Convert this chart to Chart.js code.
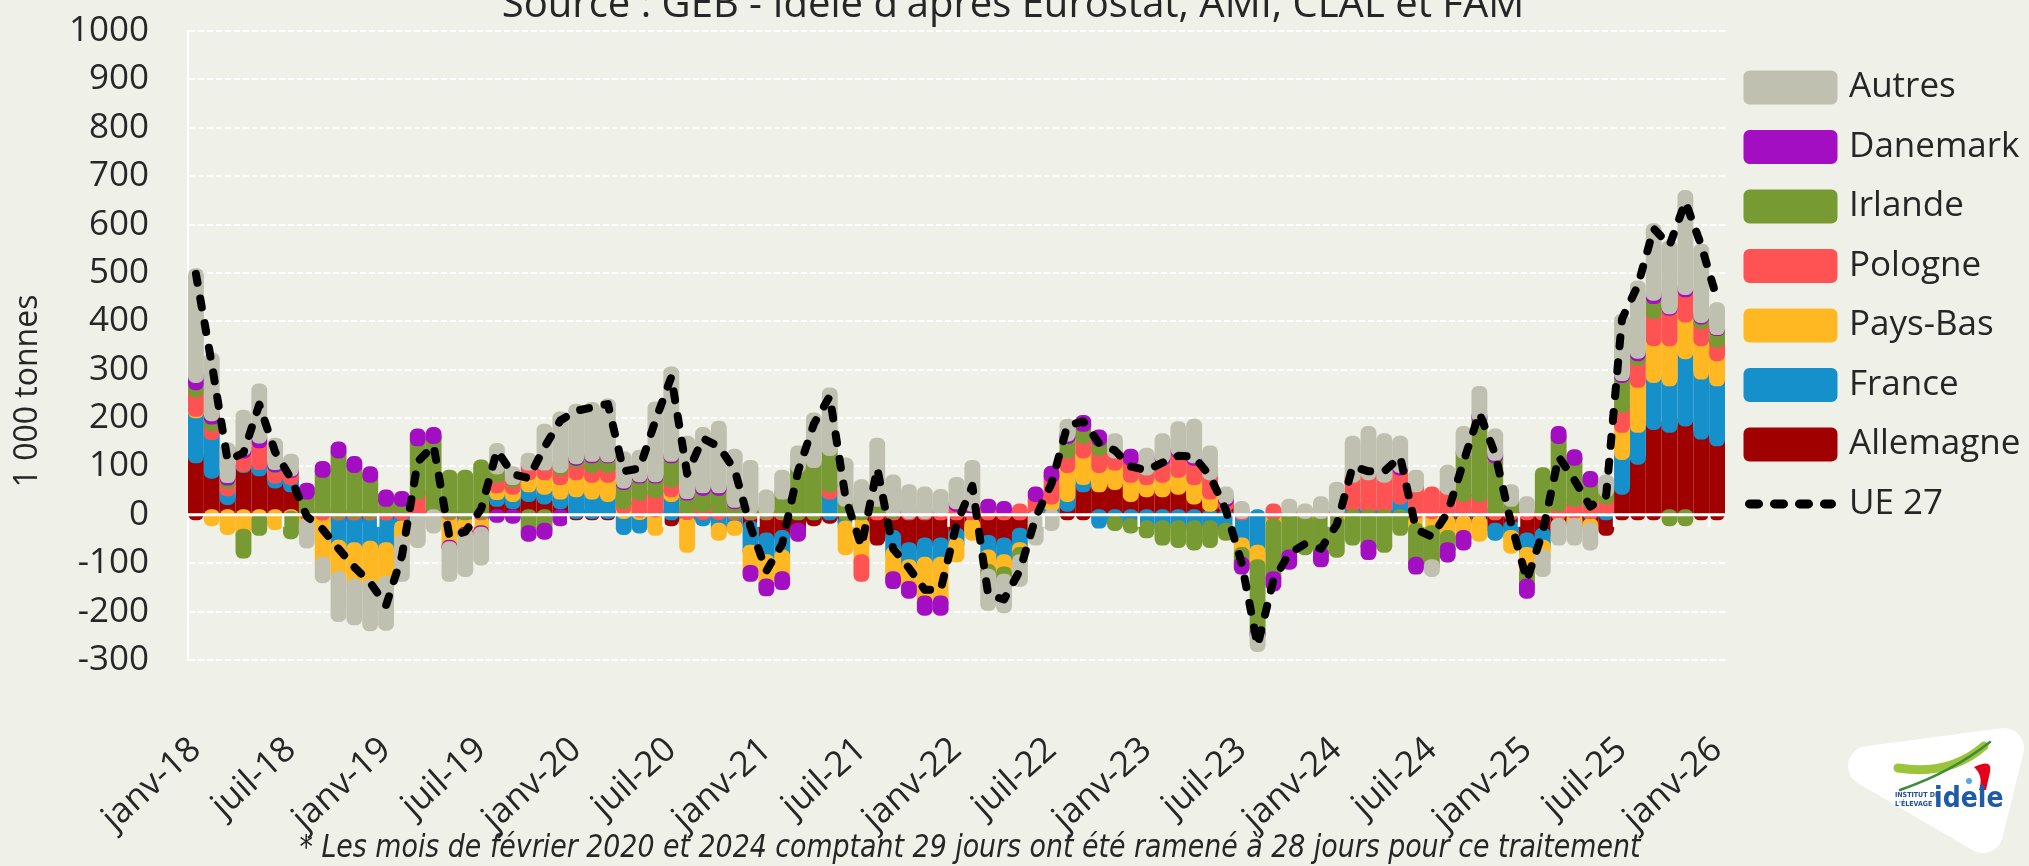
<!DOCTYPE html>
<html lang="fr">
<head>
<meta charset="utf-8">
<title>Variation mensuelle UE 27</title>
<script src="https://cdn.jsdelivr.net/npm/chart.js@4.4.1/dist/chart.umd.min.js"></script>
<style>
  html, body { margin: 0; padding: 0; background: #eff0e8; }
  #wrap { width: 2029px; height: 866px; }
  canvas { display: block; }
</style>
</head>
<body>
<div id="wrap"><canvas id="chart" width="2029" height="866"></canvas></div>
<script>
const moisNoms = ["janv", "févr", "mars", "avr", "mai", "juin", "juil", "août", "sept", "oct", "nov", "déc"];
const annees = [18, 19, 20, 21, 22, 23, 24, 25, 26];

// janv-18 ... janv-26
const mois = [];
annees.forEach(a => moisNoms.forEach(m => { if (mois.length < 97) mois.push(m + "-" + a); }));

// 1 000 tonnes
const allemagne = [
  120, 88, 34, 100, 93, 68, 60, -5, 2, -10, -10, -12,
  -10, -5, 5, 5, -5, -3, -3, 30, 25, 40, 35, 25,
  5, 5, 5, 5, 3, 3, -10, 3, 3, 3, 0, -25,
  -50, -45, -30, -10, -5, -15, -20, -50, -45, -70, -60, -60,
  -40, -20, -55, -60, -40, -5, 5, 20, 60, 60, 65, 40,
  50, 50, 55, 35, 20, 20, 0, 0, 0, 0, 0, 0,
  0, 5, 5, 5, 5, -10, -10, -15, -15, -15, -30, -25,
  -50, -40, -20, -10, -20, -30, 55, 117, 189, 183, 196, 169,
  155
];
const france = [
  93, 80, 18, 2, 13, 10, 15, 0, -5, -55, -60, -55,
  -60, -20, 0, 0, -5, -15, -12, 14, 15, 20, 20, 20,
  45, 40, 35, -28, -25, 5, 40, -15, -10, -30, -25, -50,
  -45, -40, 0, 0, 45, -10, 0, 0, -35, -35, -40, -40,
  -20, 0, -30, -35, -30, 10, 15, 20, 15, -15, -15, -20,
  -25, -25, -25, -25, -25, -30, -60, -75, -10, 0, 0, 0,
  0, 15, 10, 10, 30, 5, 5, 10, 10, 10, -10, -20,
  -30, -25, 0, 5, 5, 10, 72, 66, 97, 96, 139, 124,
  124
];
const paysBas = [
  3, -10, -28, -42, -10, -18, -5, -15, -95, -65, -75, -80,
  -70, -30, -10, 0, -55, -20, -20, 14, 15, 25, 30, 30,
  35, 35, 40, 10, 5, -30, 10, -50, 0, -10, -5, -42,
  -50, -45, 0, 0, 0, -45, -75, 0, -50, -45, -80, -80,
  -25, -20, -30, -25, -10, 0, 15, 60, 55, 40, 40, 40,
  25, 30, 35, 40, 25, 0, -20, -30, -10, -5, -10, -10,
  -15, 0, 0, 0, 0, -20, -25, -30, -30, -27, 0, -22,
  -40, -20, 0, -10, -10, 0, 56, 93, 76, 83, 76, 69,
  52
];
const pologne = [
  40, 18, 15, 28, 45, 21, 15, 5, 8, 5, 5, 5,
  10, 15, 40, 10, 5, 3, 5, 22, 15, 20, 20, 20,
  25, 20, 20, 10, 35, 40, 20, 10, 15, 10, 5, 5,
  5, 5, 0, 0, 15, 0, -30, 10, 5, 5, 5, 10,
  20, 15, 15, 10, 10, 30, 45, 30, 30, 35, 25, 35,
  20, 35, 40, 40, 40, 10, 5, 0, 10, 10, 5, 5,
  10, 60, 70, 65, 60, 55, 40, 45, 30, 30, 10, 10,
  10, 10, 20, 25, 20, 25, 41, 45, 56, 63, 52, 35,
  28
];
const irlande = [
  15, 14, 7, -35, -20, 2, -32, 40, 80, 125, 95, 75,
  20, 15, 110, 145, 75, 77, 96, 17, 5, -35, -30, 5,
  5, 20, 20, 40, 35, 30, 50, 30, 35, 40, 20, 10,
  5, 40, 100, 110, 75, 30, 10, 20, 5, 0, 0, 0,
  0, 0, -10, -15, -15, 0, 0, 30, 25, 20, -5, -5,
  -10, -25, -30, -35, -30, -10, -20, -140, -110, -80, -60, -70,
  -60, -50, -65, -65, -30, -70, -70, -25, 90, 160, 110, 20,
  -25, 75, 140, 85, 45, 15, 62, 10, 31, -10, -10, 10,
  24
];
const danemark = [
  15, 7, 5, 6, 10, 5, 3, 8, 8, 8, 8, 7,
  9, 6, 10, 8, -3, -3, -3, -3, -5, -7, -8, -10,
  3, 3, 2, 3, 3, 3, 3, 3, 5, 5, 3, -8,
  -10, -12, -12, 0, 0, 0, 0, 0, -10, -10, -15, -15,
  5, 5, 5, 5, 0, 5, 8, 5, 8, 8, 0, 8,
  0, 5, 5, 5, 0, 5, -10, -5, -15, -15, 0, -15,
  0, 0, -15, 0, 5, -10, 0, -15, -15, 5, 5, 0,
  -15, 0, 10, 7, 7, 0, 4, 5, 7, 3, 5, 3,
  2
];
const autres = [
  210, 115, 57, 68, 97, 40, 20, -36, -28, -78, -70, -80,
  -86, -70, -45, -25, -57, -74, -53, 38, 12, 10, 70, 100,
  98, 97, 105, 50, 40, 140, 170, 104, 110, 123, 95, 85,
  29, 35, 30, 88, 115, 75, 50, 116, 60, 45, 40, 30,
  40, 80, -60, -55, -40, -45, -20, 20, 0, 0, 25, 0,
  30, 35, 45, 65, 45, 10, 10, -20, 0, 10, 5, 20,
  45, 70, 85, 75, 50, 20, -10, 35, 40, 48, 40, 20,
  15, -30, -30, -30, -30, 20, 112, 135, 133, 126, 190, 137,
  41
];
const ue27 = [
  498, 312, 112, 128, 228, 130, 75, -3, -30, -70, -108, -140,
  -187, -85, 110, 143, -45, -35, 12, 133, 84, 76, 140, 195,
  215, 222, 229, 90, 96, 195, 285, 85, 158, 141, 93, -25,
  -116, -60, 90, 188, 245, 35, -65, 96, -70, -110, -155, -155,
  -20, 60, -165, -175, -115, -5, 65, 185, 193, 148, 133, 100,
  92, 108, 122, 120, 80, 10, -100, -270, -135, -80, -60, -70,
  -20, 100, 90, 90, 120, -30, -45, 5, 110, 211, 125, -17,
  -135, -35, 120, 72, 17, 40, 405, 474, 592, 557, 647, 557,
  446
];

const yMin = -300, yMax = 1000, yPas = 100;

const FOND = "#eff0e8";
const TEXTE = "#262626";
const TRAIT = 13; // épaisseur du contour arrondi des barres

Chart.defaults.font.family = "'Open Sans', sans-serif";

// Contour épais arrondi, dessiné dans l'ordre des séries (la série du haut par-dessus)
const barresEpaisses = {
  id: "barresEpaisses",
  beforeDatasetDraw(chart, args) {
    if (args.meta.type !== "line") return;
    const ctx = chart.ctx;
    const xs = chart.scales.x, ys = chart.scales.y;
    ctx.save();
    ctx.lineJoin = "round";
    ctx.lineWidth = TRAIT;
    chart.data.datasets.forEach((ds, d) => {
      if (ds.type === "line") return;
      const meta = chart.getDatasetMeta(d);
      ctx.fillStyle = ds.backgroundColor;
      ctx.strokeStyle = ds.backgroundColor;
      meta.data.forEach((bar, i) => {
        if (!ds.data[i]) return;
        const p = bar.getProps(["x", "y", "base", "width"], true);
        ctx.beginPath();
        ctx.rect(p.x - p.width / 2, Math.min(p.y, p.base), p.width, Math.abs(p.base - p.y));
        ctx.fill();
        ctx.stroke();
      });
    });
    // axe du zéro + graduations tous les 6 mois
    const y0 = ys.getPixelForValue(0);
    const pas = xs.getPixelForValue(1) - xs.getPixelForValue(0);
    ctx.strokeStyle = "#ffffff";
    ctx.lineWidth = 3;
    ctx.beginPath();
    ctx.moveTo(chart.chartArea.left, y0);
    ctx.lineTo(chart.chartArea.right, y0);
    ctx.stroke();
    ctx.lineWidth = 2.5;
    for (let k = 6; k < mois.length; k += 6) {
      const x = xs.getPixelForValue(k) - pas / 2;
      ctx.beginPath();
      ctx.moveTo(x, y0);
      ctx.lineTo(x, y0 + 12);
      ctx.stroke();
    }
    ctx.restore();
  }
};

function dessinerLogo(ctx) {
  ctx.save();
  ctx.fillStyle = "#ffffff";
  ctx.strokeStyle = "#ffffff";
  ctx.lineJoin = "round";
  ctx.lineWidth = 40;
  ctx.beginPath();
  ctx.moveTo(1868, 766);
  ctx.lineTo(2004, 748);
  ctx.lineTo(1983, 833);
  ctx.closePath();
  ctx.fill();
  ctx.stroke();

  ctx.lineCap = "round";
  ctx.lineWidth = 9;
  ctx.strokeStyle = "#9cc43a";
  ctx.beginPath();
  ctx.moveTo(1898, 768);
  ctx.quadraticCurveTo(1950, 776, 1984, 746);
  ctx.stroke();
  ctx.lineWidth = 2.5;
  ctx.strokeStyle = "#3c8d3a";
  ctx.beginPath();
  ctx.moveTo(1900, 790);
  ctx.quadraticCurveTo(1952, 772, 1990, 742);
  ctx.stroke();

  ctx.fillStyle = "#e2001a";
  ctx.beginPath();
  ctx.moveTo(1974, 767);
  ctx.quadraticCurveTo(1993, 758, 1990, 772);
  ctx.lineTo(1986, 790);
  ctx.lineTo(1979, 790);
  ctx.quadraticCurveTo(1984, 776, 1974, 767);
  ctx.fill();
  ctx.fillStyle = "#5aa9dc";
  ctx.beginPath();
  ctx.arc(1969, 781, 3, 0, Math.PI * 2);
  ctx.fill();

  ctx.textAlign = "left";
  ctx.textBaseline = "alphabetic";
  ctx.fillStyle = "#1f4e9a";
  ctx.font = "bold 7px 'Liberation Sans Narrow', 'DejaVu Sans Condensed', sans-serif";
  ctx.fillText("INSTITUT DE", 1895, 797);
  ctx.fillText("L'ÉLEVAGE", 1895, 806);
  ctx.fillStyle = "#1d5aa8";
  ctx.font = "bold 28px 'Liberation Sans Narrow', 'DejaVu Sans Condensed', sans-serif";
  ctx.fillText("idele", 1934, 807);
  ctx.restore();
}

const decor = {
  id: "decor",
  beforeDraw(chart) {
    const ctx = chart.ctx;
    ctx.save();
    ctx.fillStyle = FOND;
    ctx.fillRect(0, 0, chart.width, chart.height);
    ctx.restore();
  },
  afterDraw(chart) {
    const ctx = chart.ctx;
    ctx.save();
    ctx.fillStyle = TEXTE;
    ctx.textAlign = "center";
    ctx.textBaseline = "alphabetic";
    // titre coupé en haut
    ctx.font = "40px 'Open Sans', sans-serif";
    ctx.fillText("Source : GEB - Idele d'après Eurostat, AMI, CLAL et FAM", 1013, 17);

    // titre de l'axe Y
    ctx.save();
    ctx.translate(28, 391);
    ctx.rotate(-Math.PI / 2);
    ctx.textBaseline = "middle";
    ctx.font = "32px 'Open Sans', sans-serif";
    ctx.fillText("1 000 tonnes", 0, 0);
    ctx.restore();

    // note de bas de page
    const note = "* Les mois de février 2020 et 2024 comptant 29 jours ont été ramené à 28 jours pour ce traitement";
    ctx.font = "italic 32px 'Liberation Sans Narrow', 'DejaVu Sans Condensed', sans-serif";
    const w = ctx.measureText(note).width;
    ctx.save();
    ctx.translate(970, 857);
    ctx.scale(1341 / w, 1);
    ctx.fillText(note, 0, 0);
    ctx.restore();
    ctx.restore();

    dessinerLogo(ctx);
  }
};

function libellesLegende(chart) {
  const items = Chart.defaults.plugins.legend.labels.generateLabels(chart);
  items.forEach(it => {
    const ds = chart.data.datasets[it.datasetIndex];
    if (ds.type === "line") {
      Object.assign(it, {
        pointStyle: "line", fillStyle: "#000", strokeStyle: "#000",
        lineWidth: 9, lineDash: [9, 16], lineCap: "round", lineJoin: "round"
      });
    } else {
      Object.assign(it, {
        pointStyle: "rect", fillStyle: ds.backgroundColor, strokeStyle: ds.backgroundColor,
        lineWidth: 12, lineDash: [], lineJoin: "round"
      });
    }
  });
  return items;
}

function rangLegende(it) {
  return it.datasetIndex === 7 ? 100 : -it.datasetIndex;
}

const series = [
  { label: "Allemagne", data: allemagne, color: "#a00000" },
  { label: "France", data: france, color: "#1690cb" },
  { label: "Pays-Bas", data: paysBas, color: "#ffb822" },
  { label: "Pologne", data: pologne, color: "#ff5252" },
  { label: "Irlande", data: irlande, color: "#789a33" },
  { label: "Danemark", data: danemark, color: "#a30ec3" },
  { label: "Autres", data: autres, color: "#bfc0af" }
];

const datasets = series.map(s => ({
  type: "bar",
  label: s.label,
  data: s.data,
  backgroundColor: s.color,
  borderWidth: 0,
  stack: "pays",
  barPercentage: 0.18,
  categoryPercentage: 1
}));

datasets.push({
  type: "line",
  label: "UE 27",
  data: ue27,
  stack: "ue",
  order: -1,
  borderColor: "#000000",
  backgroundColor: "#000000",
  borderWidth: 8,
  borderDash: [9, 16],
  borderCapStyle: "round",
  borderJoinStyle: "round",
  pointRadius: 0,
  tension: 0,
  fill: false
});

const chart = new Chart(document.getElementById("chart"), {
  type: "bar",
  data: { labels: mois, datasets: datasets },
  options: {
    responsive: false,
    animation: false,
    events: [],
    devicePixelRatio: 1,
    layout: { padding: { left: 0, top: 31, right: 0, bottom: 0 } },
    plugins: {
      tooltip: { enabled: false },
      title: { display: false },
      legend: {
        position: "right",
        align: "start",
        maxWidth: 304,
        title: { display: true, text: " ", font: { size: 12 }, padding: 0 },
        labels: {
          usePointStyle: true,
          pointStyleWidth: 82,
          boxHeight: 22,
          padding: 24.5,
          color: TEXTE,
          font: { size: 35 },
          generateLabels: libellesLegende,
          sort: (a, b) => rangLegende(a) - rangLegende(b)
        }
      }
    },
    scales: {
      x: {
        stacked: true,
        grid: { display: false },
        border: { display: false },
        ticks: {
          autoSkip: false,
          maxRotation: 42,
          minRotation: 42,
          padding: 61,
          color: TEXTE,
          font: { size: 35 },
          callback: (v, i) => (i % 6 === 0 ? mois[i] : "")
        },
        afterFit: s => { s.height = 206; }
      },
      y: {
        stacked: true,
        min: yMin,
        max: yMax,
        ticks: {
          stepSize: yPas,
          padding: 0,
          color: TEXTE,
          font: { size: 35 },
          callback: v => String(v)
        },
        grid: {
          drawTicks: true,
          tickLength: 39,
          tickColor: "rgba(0,0,0,0)",
          lineWidth: 2,
          color: c => (c.tick && c.tick.value === 0 ? "rgba(0,0,0,0)" : "#ffffff")
        },
        border: { display: true, color: "#ffffff", width: 2, dash: [6, 3] },
        afterFit: s => { s.width = 188; }
      }
    }
  },
  plugins: [decor, barresEpaisses]
});

// la zone de tracé doit finir à x = 1725
const ecart = chart.chartArea.right - 1725;
if (Math.abs(ecart) > 0.5) {
  chart.options.layout.padding.right = Math.max(0, ecart);
  chart.update();
}
</script>
</body>
</html>
